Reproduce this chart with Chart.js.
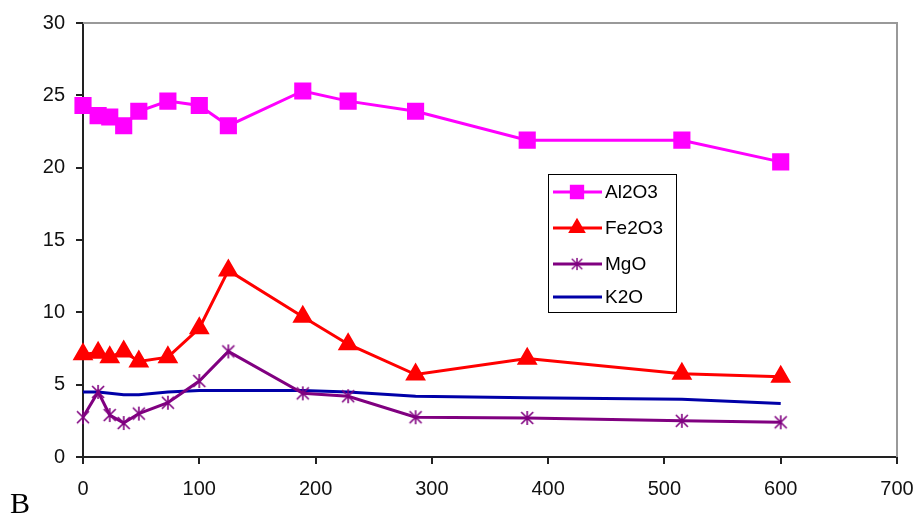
<!DOCTYPE html>
<html>
<head>
<meta charset="utf-8">
<title>Oxides</title>
<script src="https://cdn.jsdelivr.net/npm/chart.js@4"></script>
<style>
  body { margin: 0; background: #fff; }
  #wrap { position: relative; width: 920px; height: 521px; }
  #letter {
    position: absolute; left: 10px; top: 486px;
    font-family: "Liberation Serif", "Times New Roman", serif;
    font-size: 30px; line-height: 34px; color: #000;
  }
</style>
</head>
<body>
<div id="wrap">
  <canvas id="myChart" width="920" height="521"></canvas>
  <div id="letter">B</div>
</div>
<script>
// x positions (distance) shared by all series
const xValues = [0, 13, 23, 35, 48, 73, 100, 125, 189, 228, 286, 382, 515, 600];

const al2o3 = [24.3, 23.6, 23.5, 22.9, 23.9, 24.6, 24.3, 22.9, 25.3, 24.6, 23.9, 21.9, 21.9, 20.4];
const fe2o3 = [7.1, 7.2, 6.9, 7.3, 6.6, 6.9, 8.9, 12.9, 9.7, 7.8, 5.7, 6.8, 5.75, 5.55];
const mgo   = [2.75, 4.5, 2.9, 2.35, 3.0, 3.75, 5.25, 7.3, 4.4, 4.2, 2.75, 2.7, 2.5, 2.4];
const k2o   = [4.5, 4.5, 4.4, 4.3, 4.3, 4.5, 4.6, 4.6, 4.6, 4.5, 4.2, 4.1, 4.0, 3.7];

const seriesNames = ["Al2O3", "Fe2O3", "MgO", "K2O"];
const xTicks = [0, 100, 200, 300, 400, 500, 600, 700];
const yTicks = [0, 5, 10, 15, 20, 25, 30];

function pairs(ys) {
  return xValues.map(function (x, i) { return { x: x, y: ys[i] }; });
}

// Excel-like asterisk marker: an X plus a vertical stroke
function makeStar(color) {
  const c = document.createElement('canvas');
  c.width = 16; c.height = 16;
  const g = c.getContext('2d');
  g.strokeStyle = color;
  g.lineWidth = 1.6;
  g.beginPath();
  g.moveTo(2, 2); g.lineTo(14, 14);
  g.moveTo(14, 2); g.lineTo(2, 14);
  g.moveTo(8, 1); g.lineTo(8, 15);
  g.stroke();
  return c;
}
const starImg = makeStar('#800080');

// plot area frame (top and right edge)
const frame = {
  id: 'frame',
  beforeDatasetsDraw: function (chart) {
    const a = chart.chartArea, ctx = chart.ctx;
    ctx.save();
    ctx.strokeStyle = '#999';
    ctx.lineWidth = 2;
    ctx.beginPath();
    ctx.moveTo(a.left, a.top);
    ctx.lineTo(a.right, a.top);
    ctx.lineTo(a.right, a.bottom);
    ctx.stroke();
    ctx.restore();
  }
};

// boxed legend inside the plot
const boxLegend = {
  id: 'boxLegend',
  afterDraw: function (chart) {
    const ctx = chart.ctx;
    const bx = 548, by = 174, bw = 128, bh = 138;
    ctx.save();
    ctx.fillStyle = '#fff';
    ctx.fillRect(bx, by, bw, bh);
    ctx.strokeStyle = '#000';
    ctx.lineWidth = 1;
    ctx.strokeRect(bx + 0.5, by + 0.5, bw, bh);
    const rows = [192, 228, 264, 297];
    chart.data.datasets.forEach(function (ds, i) {
      const y = rows[i];
      ctx.strokeStyle = ds.borderColor;
      ctx.lineWidth = 3;
      ctx.beginPath();
      ctx.moveTo(553, y);
      ctx.lineTo(602, y);
      ctx.stroke();
      if (ds.pointStyle instanceof HTMLCanvasElement) {
        ctx.drawImage(ds.pointStyle, 577 - 7, y - 7, 14, 14);
      } else if (ds.pointRadius > 0) {
        Chart.helpers.drawPoint(ctx, {
          pointStyle: ds.pointStyle, radius: ds.pointRadius * 0.8, borderWidth: 1
        }, 577, y);
        ctx.fillStyle = ds.pointBackgroundColor;
        ctx.strokeStyle = ds.borderColor;
        ctx.fill();
      }
      ctx.fillStyle = '#000';
      ctx.font = '19px "Liberation Sans", Arial, sans-serif';
      ctx.textBaseline = 'middle';
      ctx.fillText(ds.label, 605, y + 1);
    });
    ctx.restore();
  }
};

const ctx = document.getElementById('myChart').getContext('2d');
const myChart = new Chart(ctx, {
  type: 'line',
  data: {
    datasets: [
      {
        label: seriesNames[0],
        data: pairs(al2o3),
        borderColor: '#ff00ff',
        backgroundColor: '#ff00ff',
        pointBackgroundColor: '#ff00ff',
        pointBorderColor: '#ff00ff',
        borderWidth: 3,
        pointStyle: 'rect',
        pointRadius: 10,
        clip: false
      },
      {
        label: seriesNames[1],
        data: pairs(fe2o3),
        borderColor: '#ff0000',
        backgroundColor: '#ff0000',
        pointBackgroundColor: '#ff0000',
        pointBorderColor: '#ff0000',
        borderWidth: 3,
        pointStyle: 'triangle',
        pointRadius: 9,
        clip: false
      },
      {
        label: seriesNames[2],
        data: pairs(mgo),
        borderColor: '#800080',
        backgroundColor: '#800080',
        borderWidth: 3,
        pointStyle: starImg,
        pointRadius: 8,
        clip: false
      },
      {
        label: seriesNames[3],
        data: pairs(k2o),
        borderColor: '#0000a8',
        backgroundColor: '#0000a8',
        borderWidth: 3,
        pointRadius: 0,
        clip: false
      }
    ]
  },
  plugins: [frame, boxLegend],
  options: {
    responsive: false,
    animation: false,
    layout: { padding: { left: 0, top: 23, right: 23, bottom: 0 } },
    elements: { line: { tension: 0 } },
    plugins: {
      legend: { display: false },
      tooltip: { enabled: false }
    },
    scales: {
      x: {
        type: 'linear',
        min: 0,
        max: 700,
        afterFit: function (s) { s.height = 64; s.paddingLeft = 0; s.paddingRight = 0; },
        afterBuildTicks: function (s) { s.ticks = xTicks.map(function (v) { return { value: v }; }); },
        grid: { drawOnChartArea: false, tickLength: 7, color: '#222', lineWidth: 2 },
        border: { color: '#222', width: 2 },
        ticks: {
          color: '#111',
          padding: 13,
          maxRotation: 0,
          font: { family: '"Liberation Sans", Arial, sans-serif', size: 20 }
        }
      },
      y: {
        min: 0,
        max: 30,
        afterFit: function (s) { s.width = 83; s.paddingTop = 0; s.paddingBottom = 0; },
        afterBuildTicks: function (s) { s.ticks = yTicks.map(function (v) { return { value: v }; }); },
        grid: { drawOnChartArea: false, tickLength: 7, color: '#222', lineWidth: 2 },
        border: { color: '#222', width: 2 },
        ticks: {
          color: '#111',
          padding: 11,
          font: { family: '"Liberation Sans", Arial, sans-serif', size: 20 }
        }
      }
    }
  }
});
</script>
</body>
</html>
